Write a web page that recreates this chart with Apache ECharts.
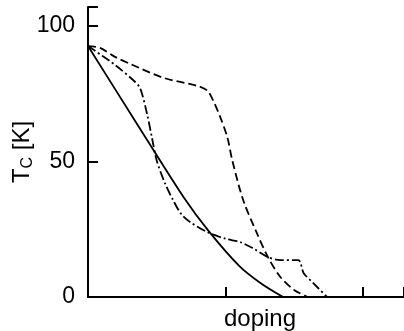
<!DOCTYPE html>
<html>
<head>
<meta charset="utf-8">
<script src="https://cdn.jsdelivr.net/npm/echarts@6/dist/echarts.min.js"></script>
<style>
  html, body { margin: 0; padding: 0; background: #fff; }
  #chart { width: 404px; height: 331px; }
</style>
</head>
<body>
<div id="chart"></div>
<script>
// [doping, Tc] pairs
const solidCurve = [[0, 92.6], [0.35, 64.4], [0.7, 36.5], [0.88, 24.2], [1.1, 11.5], [1.26, 5], [1.42, 0]];
const dashDotCurve = [[0, 92.6], [0.2, 85.5], [0.34, 79.5], [0.38, 77], [0.43, 67.5], [0.465, 58.9], [0.5, 50.4],
    [0.56, 42], [0.62, 35.7], [0.68, 30.5], [0.75, 27.4], [0.87, 23.9], [1.0, 21.5], [1.11, 20.2], [1.2, 18],
    [1.31, 14.7], [1.4, 13.6], [1.53, 13.6], [1.57, 8.8], [1.64, 5.1], [1.74, 0]];
const dashedCurve = [[0, 92.6], [0.088, 91.9], [0.2, 88.5], [0.307, 86], [0.547, 80.9], [0.796, 77.9], [0.869, 76.1],
    [0.912, 72.4], [0.964, 66.2], [1.015, 58.8], [1.05, 50.4], [1.13, 35.7], [1.23, 23.5], [1.31, 14.7],
    [1.4, 7.4], [1.5, 2.6], [1.6, 0]];
const yTicks = [0, 50, 100];

const font = '"Liberation Sans", Arial, sans-serif';
const chart = echarts.init(document.getElementById('chart'));

function curve(data, type) {
    return {
        type: 'line',
        data: data,
        smooth: 0.3,
        symbol: 'none',
        lineStyle: { color: '#000', width: 1.8, type: type }
    };
}

chart.setOption({
    animation: false,
    grid: { left: 88, right: 0, top: 7, bottom: 34, outerBoundsMode: 'none', containLabel: false },
    xAxis: {
        type: 'value',
        min: 0,
        max: 2.3,
        interval: 1,
        name: 'doping',
        nameLocation: 'middle',
        nameGap: 10,
        nameMoveOverlap: false,
        nameTextStyle: { color: '#000', fontSize: 24, fontFamily: font, padding: [0, 0, 0, 28], verticalAlign: 'top' },
        axisLine: { lineStyle: { color: '#000', width: 2 } },
        axisTick: { inside: true, length: 10, lineStyle: { color: '#000', width: 2 } },
        axisLabel: { show: false },
        splitLine: { show: false }
    },
    yAxis: {
        type: 'value',
        min: 0,
        max: 107,
        interval: 50,
        name: 'T{s|C} [K]',
        nameLocation: 'middle',
        nameRotate: 90,
        nameGap: 52,
        nameMoveOverlap: false,
        nameTextStyle: {
            color: '#000', fontSize: 24, fontFamily: font,
            rich: { s: { fontSize: 16, fontFamily: font, color: '#000', verticalAlign: 'bottom', padding: [12, 0, 0, 0] } }
        },
        axisLine: { lineStyle: { color: '#000', width: 2 } },
        axisTick: { inside: true, length: 10, lineStyle: { color: '#000', width: 2 } },
        axisLabel: {
            margin: 13, color: '#000', fontSize: 23, fontFamily: font,
            formatter: v => (yTicks.indexOf(v) >= 0 ? String(v) : '')
        },
        splitLine: { show: false }
    },
    series: [
        curve(solidCurve, 'solid'),
        curve(dashDotCurve, [9, 3, 2, 3]),
        curve(dashedCurve, [8, 4])
    ]
});
</script>
</body>
</html>
